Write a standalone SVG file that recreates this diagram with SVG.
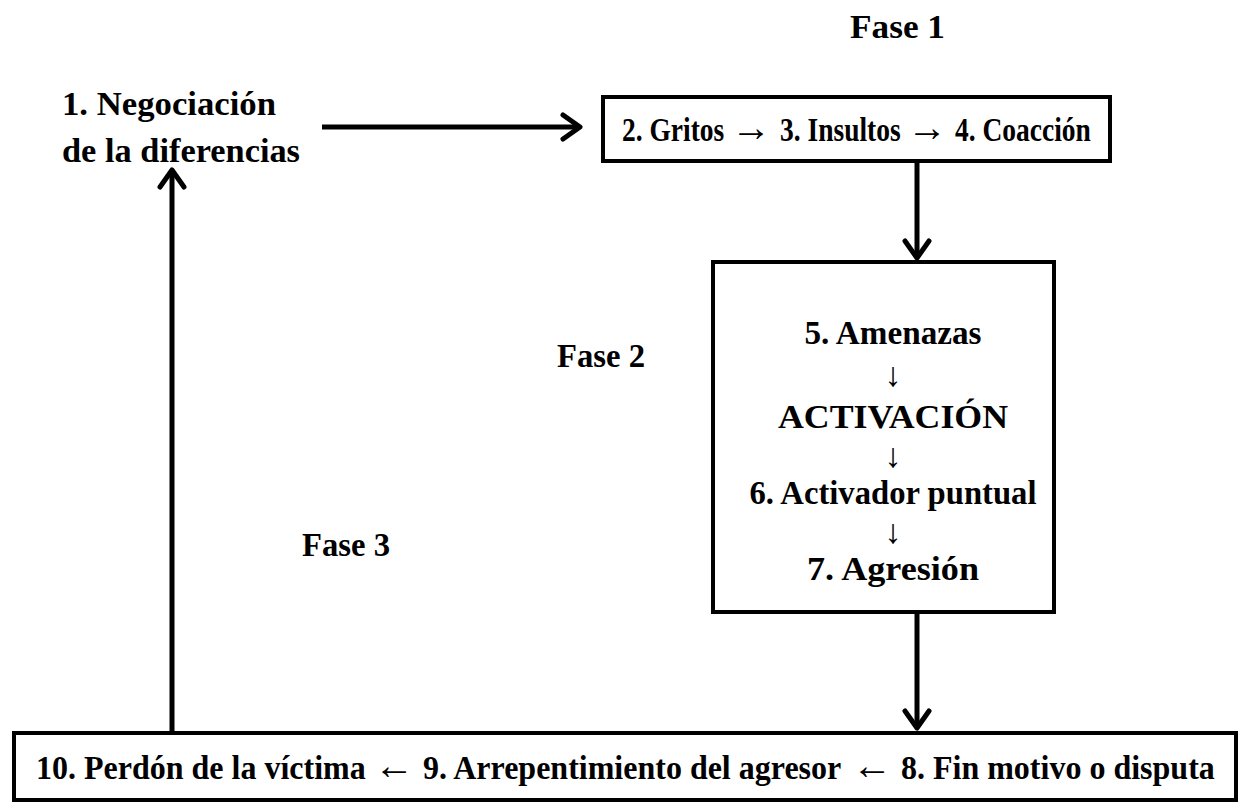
<svg xmlns="http://www.w3.org/2000/svg" width="1241" height="802" viewBox="0 0 1241 802">
<style>
  .t { font-family: "Liberation Serif", "Times New Roman", serif; font-weight: bold; font-size: 34px; fill: #000; }
  .c { text-anchor: middle; }
  .tb { font-size: 27.5px; }
  .bb { font-size: 32px; }
  .mb { font-size: 33px; }
  .ar { font-family: "Liberation Serif", "Times New Roman", serif; font-weight: normal; font-size: 40px; fill: #000; text-anchor: middle; }
  .ad { font-size: 34px; }
  .box { fill: #fff; stroke: #000; stroke-width: 4; }
  .conn { fill: none; stroke: #000; stroke-width: 5; }
</style>
<defs>
  <marker id="chev" viewBox="-22 -16 26 32" markerWidth="26" markerHeight="32" refX="0" refY="0" orient="auto" markerUnits="userSpaceOnUse">
    <path d="M-17,-12 L0,0 L-17,12" fill="none" stroke="#000" stroke-width="5" stroke-linecap="round" stroke-linejoin="round"/>
  </marker>
</defs>
<rect width="1241" height="802" fill="#fff"/>
<g id="connectors">
  <path class="conn" d="M322,127 L580,127" marker-end="url(#chev)"/>
  <path class="conn" d="M917,162 L917,258" marker-end="url(#chev)"/>
  <path class="conn" d="M917,613 L917,728" marker-end="url(#chev)"/>
  <path class="conn" d="M172,731 L172,170" marker-end="url(#chev)"/>
</g>
<g id="fase1"><text class="t" x="850" y="38" textLength="95" lengthAdjust="spacingAndGlyphs">Fase 1</text></g>
<g id="fase2"><text class="t" x="557" y="367" textLength="88" lengthAdjust="spacingAndGlyphs">Fase 2</text></g>
<g id="fase3"><text class="t" x="302" y="556" textLength="88" lengthAdjust="spacingAndGlyphs">Fase 3</text></g>
<g id="node1">
  <text class="t" x="62" y="115" textLength="214" lengthAdjust="spacingAndGlyphs">1. Negociación</text>
  <text class="t" x="62" y="162" textLength="238" lengthAdjust="spacingAndGlyphs">de la diferencias</text>
</g>
<g id="node2">
  <rect class="box" x="603" y="97" width="507" height="64"/>
  <text class="t tb" transform="translate(622,141) scale(1,1.2)">2. Gritos</text>
  <text class="ar" x="751" y="141">→</text>
  <text class="t tb" transform="translate(780,141) scale(1,1.2)">3. Insultos</text>
  <text class="ar" x="927" y="141">→</text>
  <text class="t tb" transform="translate(955,141) scale(1,1.2)">4. Coacción</text>
</g>
<g id="node3">
  <rect class="box" x="713" y="262" width="341" height="350"/>
  <text class="t mb c" x="893" y="344" textLength="177" lengthAdjust="spacingAndGlyphs">5. Amenazas</text>
  <text class="ar ad" x="893" y="386">↓</text>
  <text class="t mb c" x="893" y="428" textLength="230" lengthAdjust="spacingAndGlyphs">ACTIVACIÓN</text>
  <text class="ar ad" x="893" y="466.5">↓</text>
  <text class="t mb c" x="893" y="504" textLength="287" lengthAdjust="spacingAndGlyphs">6. Activador puntual</text>
  <text class="ar ad" x="893" y="542.5">↓</text>
  <text class="t mb c" x="893" y="580" textLength="172" lengthAdjust="spacingAndGlyphs">7. Agresión</text>
</g>
<g id="node4">
  <rect class="box" x="14" y="733" width="1222" height="67"/>
  <text class="t bb" transform="translate(36,779) scale(1,1.06)">10. Perdón de la víctima</text>
  <text class="ar" x="394" y="779">←</text>
  <text class="t bb" transform="translate(423,779) scale(1,1.06)">9. Arrepentimiento del agresor</text>
  <text class="ar" x="872" y="779">←</text>
  <text class="t bb" transform="translate(901,779) scale(1,1.06)">8. Fin motivo o disputa</text>
</g>
</svg>
